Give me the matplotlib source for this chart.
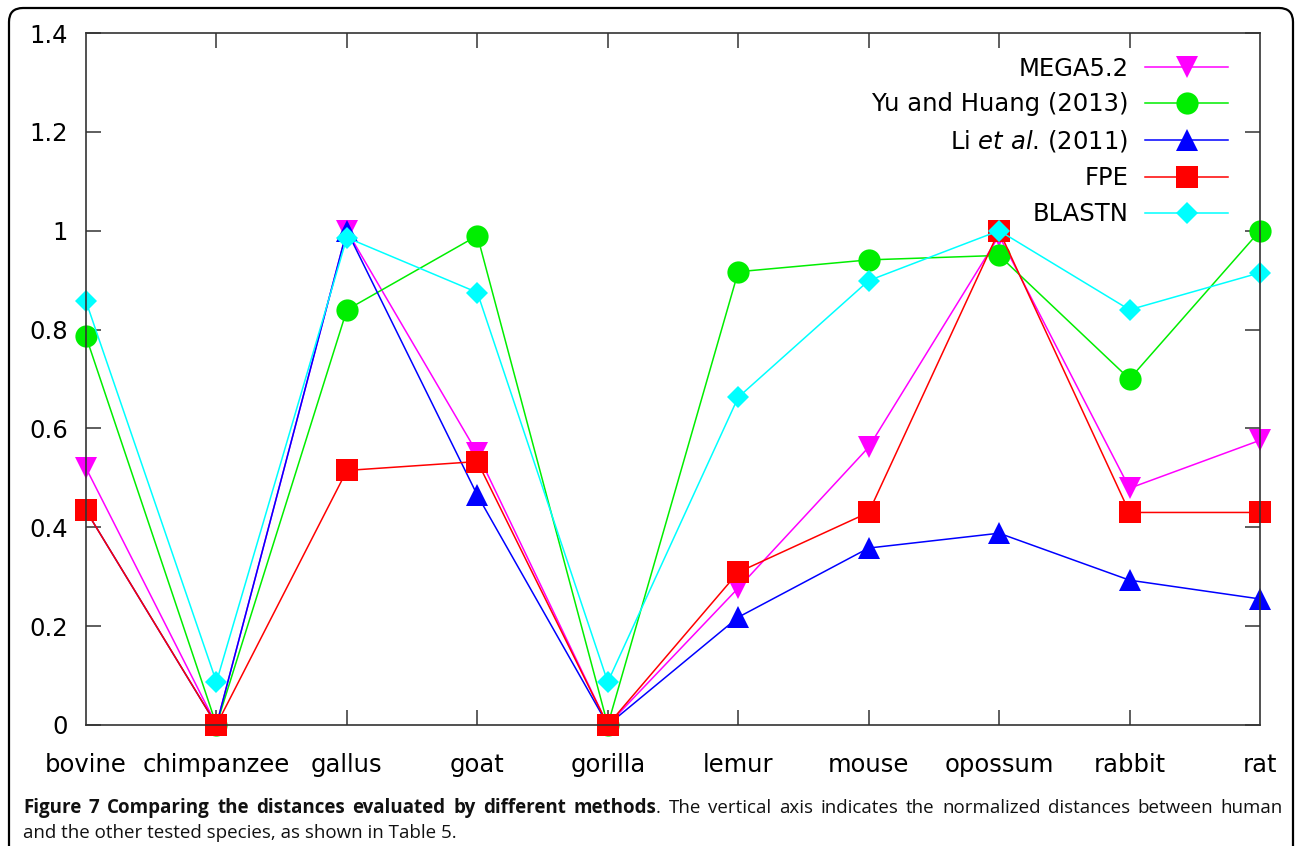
import numpy as np
import matplotlib
matplotlib.use('Agg')
import matplotlib.pyplot as plt
from matplotlib.patches import FancyBboxPatch

# values (normalized distances to human)
species = ['bovine', 'chimpanzee', 'gallus', 'goat', 'gorilla',
           'lemur', 'mouse', 'opossum', 'rabbit', 'rat']
mega = [0.52, 0.0, 1.0, 0.55, 0.0, 0.277, 0.562, 0.99, 0.479, 0.576]
yu_huang = [0.786, 0.0, 0.84, 0.99, 0.0, 0.917, 0.941, 0.95, 0.70, 1.0]
li = [0.434, 0.0, 1.0, 0.465, 0.0, 0.218, 0.358, 0.388, 0.293, 0.255]
fpe = [0.434, 0.0, 0.515, 0.533, 0.0, 0.309, 0.430, 1.0, 0.430, 0.430]
blastn = [0.857, 0.087, 0.986, 0.875, 0.087, 0.663, 0.899, 1.0, 0.84, 0.915]

W, H = 1295, 846
fig = plt.figure(figsize=(W / 100, H / 100), dpi=100)
ax = fig.add_axes([86 / W, 1 - 725 / H, (1260 - 86) / W, (725 - 33) / H])

x = np.arange(len(species))
ms = 16
lw = 1.1
ax.plot(x, mega, color='#ff00ff', lw=lw, marker='v', ms=ms, mew=0, label='MEGA5.2', clip_on=False)
ax.plot(x, yu_huang, color='#00ee00', lw=lw, marker='o', ms=ms, mew=0, label='Yu and Huang (2013)', clip_on=False)
ax.plot(x, li, color='#0000ff', lw=lw, marker='^', ms=ms, mew=0, label=r'Li $\mathit{et\ al}$. (2011)', clip_on=False)
ax.plot(x, fpe, color='#ff0000', lw=lw, marker='s', ms=ms - 0.5, mew=0, label='FPE', clip_on=False)
ax.plot(x, blastn, color='#00ffff', lw=lw, marker='D', ms=11, mew=0, label='BLASTN', clip_on=False)

ax.set_xlim(0, len(species) - 1)
ax.set_ylim(0, 1.4)
ax.set_xticks(x)
ax.set_xticklabels(species, fontsize=17.5)
ax.set_yticks([0, 0.2, 0.4, 0.6, 0.8, 1, 1.2, 1.4])
ax.set_yticklabels(['0', '0.2', '0.4', '0.6', '0.8', '1', '1.2', '1.4'], fontsize=17.5)
ax.tick_params(axis='both', direction='in', length=11, width=1.1, color='#333333',
               top=True, right=True)
ax.tick_params(axis='x', pad=20)
ax.tick_params(axis='y', pad=13)
# hide end ticks on x (they sit on the border)
for t in [ax.xaxis.get_major_ticks()[0], ax.xaxis.get_major_ticks()[-1]]:
    t.tick1line.set_visible(False)
    t.tick2line.set_visible(False)
for s in ax.spines.values():
    s.set_color('#333333')
    s.set_linewidth(1.2)

leg = ax.legend(loc='upper right', bbox_to_anchor=(0.9727, 0.966), frameon=False,
                markerfirst=False, fontsize=17.5, handlelength=3.4, handletextpad=0.7,
                labelspacing=0.49, borderpad=0, borderaxespad=0)

# rounded frame around the whole figure (open at the bottom)
frame = FancyBboxPatch((9, -40), 1284, H - 8 + 40, boxstyle='round,pad=0,rounding_size=14',
                       transform=None, fill=False, edgecolor='black', linewidth=1.6, clip_on=False)
fig.add_artist(frame)

# caption, first line justified
cap_font = 'Open Sans'
cap_size = 13.5
renderer = fig.canvas.get_renderer()
words1 = [[('Figure', 'bold')], [('7', 'bold')], [('Comparing', 'bold')], [('the', 'bold')],
          [('distances', 'bold')], [('evaluated', 'bold')], [('by', 'bold')],
          [('different', 'bold')], [('methods', 'bold'), ('.', 'normal')]]
for w in 'The vertical axis indicates the normalized distances between human'.split():
    words1.append([(w, 'normal')])

y1 = 1 - 813 / H
x_left, x_right = 23, 1283
placed = []
total = 0
for word in words1:
    parts = []
    wsum = 0
    for s, wt in word:
        t = fig.text(0, y1, s, fontsize=cap_size, fontweight=wt, family=cap_font, color='#111111')
        bw = t.get_window_extent(renderer).width
        parts.append((t, bw))
        wsum += bw
    placed.append(parts)
    total += wsum
gap = (x_right - x_left - total) / (len(placed) - 1)
cx = x_left
for parts in placed:
    for t, bw in parts:
        t.set_x(cx / W)
        cx += bw
    cx += gap

fig.text(x_left / W, 1 - 838 / H, 'and the other tested species, as shown in Table 5.',
         fontsize=cap_size, family=cap_font, color='#111111')

fig.savefig('out.png', dpi=100)
